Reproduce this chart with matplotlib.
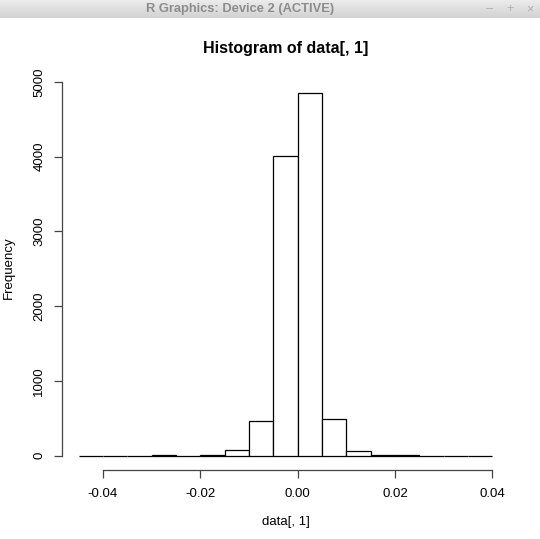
import numpy as np
import matplotlib
matplotlib.use("Agg")
import matplotlib.pyplot as plt

plt.rcParams['font.family'] = ['Liberation Sans', 'DejaVu Sans']

# Histogram data: bin edges and counts
bin_edges = [-0.045, -0.040, -0.035, -0.030, -0.025, -0.020, -0.015, -0.010,
             -0.005, 0.000, 0.005, 0.010, 0.015, 0.020, 0.025, 0.030, 0.035, 0.040]
counts = [0, 0, 0, 6, 0, 10, 67, 464, 4005, 4853, 490, 54, 9, 4, 0, 0, 0]
x_ticks = [-0.04, -0.02, 0.00, 0.02, 0.04]
x_tick_labels = ["-0.04", "-0.02", "0.00", "0.02", "0.04"]
y_ticks = [0, 1000, 2000, 3000, 4000, 5000]
title = "Histogram of data[, 1]"
xlabel = "data[, 1]"
ylabel = "Frequency"
window_title = "R Graphics: Device 2 (ACTIVE)"

W, H = 540, 539
fig = plt.figure(figsize=(W / 100, H / 100), dpi=100)
fig.patch.set_facecolor('white')

# Window title bar
tb = fig.add_axes([0, 1 - 18 / H, 1, 18 / H])
grad = np.linspace(0, 1, 50).reshape(-1, 1)
tb.imshow(grad, aspect='auto', cmap=matplotlib.colors.LinearSegmentedColormap.from_list(
    'tb', ['#ececec', '#d2d2d2']), extent=[0, 1, 0, 1])
tb.set_xlim(0, 1); tb.set_ylim(0, 1)
tb.axis('off')
tb.text(240 / W, 0.5, window_title, ha='center', va='center', color='#8c8c8c',
        fontsize=9.3, fontweight='bold')
for xp, s in [(489, '\u2013'), (510, '+'), (530, '\u00d7')]:
    tb.text(xp / W, 0.5, s, ha='center', va='center', color='#b0b0b0', fontsize=9)

# Plot region
left, right, top, bottom = 62, 509, 78.5, 470
ax = fig.add_axes([left / W, (H - bottom) / H, (right - left) / W, (bottom - top) / H])

edges = np.array(bin_edges)
widths = np.diff(edges)
ax.bar(edges[:-1], counts, width=widths, align='edge', facecolor='white',
       edgecolor='black', linewidth=0.9)

span = edges[-1] - edges[0]
ax.set_xlim(edges[0] - 0.04 * span, edges[-1] + 0.04 * span)
ymax = max(counts)
ax.set_ylim(-0.04 * ymax, ymax * 1.04)

for s in ['top', 'right']:
    ax.spines[s].set_visible(False)
ax.spines['left'].set_bounds(y_ticks[0], y_ticks[-1])
ax.spines['bottom'].set_bounds(x_ticks[0], x_ticks[-1])
for s in ['left', 'bottom']:
    ax.spines[s].set_linewidth(0.9)
    ax.spines[s].set_color('#444444')

ax.set_xticks(x_ticks)
ax.set_xticklabels(x_tick_labels)
ax.set_yticks(y_ticks)
ax.set_yticklabels([str(v) for v in y_ticks], rotation=90, va='center')
ax.tick_params(direction='out', length=6, width=0.9, color='#444444',
               labelsize=9.5, pad=6)
ax.tick_params(axis='x', pad=7)

fig.text((left + right) / 2 / W, 1 - 48 / H, title, ha='center', va='center',
         fontsize=11.5, fontweight='bold')
fig.text((left + right) / 2 / W, 1 - 522 / H, xlabel, ha='center', va='center',
         fontsize=9.5)
fig.text(9 / W, 1 - 268 / H, ylabel, ha='center', va='center', rotation=90,
         fontsize=9.5)

fig.savefig('out.png', dpi=100, facecolor='white')
